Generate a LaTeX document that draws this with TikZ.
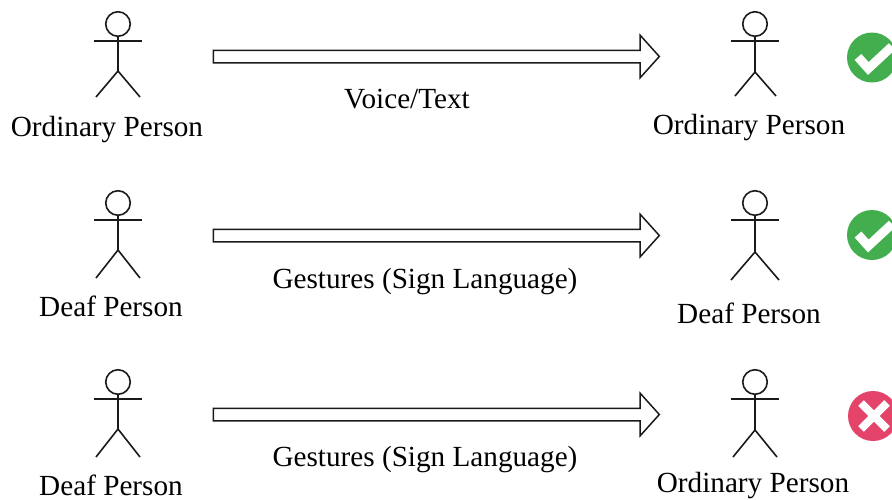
\documentclass[tikz,border=0pt]{standalone}
\usepackage{fontspec}
\setmainfont{Liberation Serif}
\usetikzlibrary{shapes.arrows}
\definecolor{okgreen}{HTML}{43AE4E}
\definecolor{badred}{HTML}{E5446A}
\definecolor{ink}{HTML}{1A1A1A}
\tikzset{
  x=1pt,y=-1pt,
  lbl/.style={inner sep=0pt,anchor=base,font=\fontsize{29.2}{32}\selectfont,text=black},
  fatarrow/.style={shape=single arrow,draw=ink,line width=1.5pt,fill=white,minimum height=446pt,minimum width=41pt,
    inner sep=5.5pt,outer sep=0pt,single arrow head extend=15pt,single arrow tip angle=96,single arrow head indent=0pt},
  headc/.style={shape=circle,draw=ink,line width=1.6pt,minimum size=24.5pt,inner sep=0pt,outer sep=0pt},
  limb/.style={draw=ink,line width=1.6pt},
  badge/.style={shape=circle,minimum size=50pt,inner sep=0pt,outer sep=0pt},
  mark line/.style={draw=white,line width=9pt},
  cross line/.style={draw=white,line width=8pt},
}
% \stick{name}{x}{head y}{crotch y}{feet y}{left spread}{right spread}
\newcommand{\stick}[7]{%
  \node[headc] (#1h) at (#2,#3) {};
  \coordinate (#1a) at (#2,#3+17);
  \coordinate (#1l) at (#2-24,#3+17);
  \coordinate (#1r) at (#2+24,#3+17);
  \coordinate (#1c) at (#2,#4);
  \coordinate (#1fl) at (#2-#6,#5);
  \coordinate (#1fr) at (#2+#7,#5);
  \draw[limb] (#1h.south) -- (#1c);
  \draw[limb] (#1l) -- (#1r);
  \draw[limb] (#1fl) -- (#1c) -- (#1fr);
}
\newcommand{\okbadge}[3]{%
  \node[badge,fill=okgreen] (#1) at (#2,#3) {};
  \draw[mark line] ([shift={(-14,-0.5)}]#1.center) -- ([shift={(-3.7,11)}]#1.center) -- ([shift={(20,-11)}]#1.center);
}
\begin{document}
\begin{tikzpicture}
\useasboundingbox (0,0) rectangle (892,499);
\begin{scope}
\clip (0,0) rectangle (892,499);
\stick{a}{118}{24}{71}{97}{22}{22}
\stick{b}{755}{24}{72}{96}{20}{21}
\stick{c}{118}{203}{250}{278}{22}{22}
\stick{d}{755}{203}{252}{280}{24}{24}
\stick{e}{118}{382}{429}{457}{22}{22}
\stick{f}{755}{382}{430}{457}{22}{22}
\node[fatarrow] (r1) at (433.5,56.5) {};
\node[fatarrow] (r2) at (433.5,235.5) {};
\node[fatarrow] (r3) at (433.5,414.5) {};
\okbadge{k1}{872}{57.5}
\okbadge{k2}{872}{235}
\node[badge,fill=badred] (k3) at (873,416) {};
\draw[cross line] ([shift={(-12,-13)}]k3.center) -- ([shift={(14,13)}]k3.center);
\draw[cross line] ([shift={(-12,13)}]k3.center) -- ([shift={(14,-13)}]k3.center);
\end{scope}
\node[lbl] (t1) at (107,136) {Ordinary Person};
\node[lbl] (t2) at (749,134) {Ordinary Person};
\node[lbl] (t3) at (407,108) {Voice/Text};
\node[lbl] (t4) at (111,316) {Deaf Person};
\node[lbl] (t5) at (749,323) {Deaf Person};
\node[lbl] (t6) at (425,288) {Gestures (Sign Language)};
\node[lbl] (t7) at (111,495.5) {Deaf Person};
\node[lbl] (t8) at (753,492.5) {Ordinary Person};
\node[lbl] (t9) at (425,466) {Gestures (Sign Language)};
\end{tikzpicture}
\end{document}
